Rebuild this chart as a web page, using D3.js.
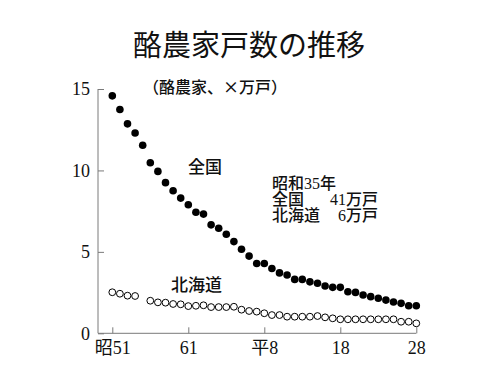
<!DOCTYPE html>
<html>
<head>
<meta charset="utf-8">
<script src="https://cdn.jsdelivr.net/npm/d3@7"></script>
<style>
  body { margin: 0; background: #fff; }
  svg text { fill: #111; }
</style>
</head>
<body>
<div id="chart"></div>
<script>
// data (x万戸)
const years = [1976, 1977, 1978, 1979, 1980, 1981, 1982, 1983, 1984, 1985,
               1986, 1987, 1988, 1989, 1990, 1991, 1992, 1993, 1994, 1995,
               1996, 1997, 1998, 1999, 2000, 2001, 2002, 2003, 2004, 2005,
               2006, 2007, 2008, 2009, 2010, 2011, 2012, 2013, 2014, 2015, 2016]
const zenkoku = [14.58, 13.74, 12.86, 12.3, 11.55, 10.47, 9.94, 9.25, 8.75, 8.3,
                 7.89, 7.43, 7.32, 6.66, 6.45, 6.08, 5.63, 5.16, 4.74, 4.29,
                 4.29, 3.98, 3.71, 3.58, 3.31, 3.31, 3.16, 3.07, 2.90, 2.82,
                 2.82, 2.55, 2.51, 2.35, 2.25, 2.15, 2.04, 1.92, 1.84, 1.69, 1.69]
const hokkaido = [2.52, 2.43, 2.31, 2.29, null, 2.0, 1.90, 1.88, 1.80, 1.78,
                  1.67, 1.69, 1.72, 1.61, 1.61, 1.61, 1.63, 1.45, 1.37, 1.33,
                  1.23, 1.12, 1.12, 1.02, 1.02, 1.02, 1.02, 1.06, 0.98, 0.92,
                  0.86, 0.86, 0.86, 0.86, 0.86, 0.86, 0.86, 0.86, 0.71, 0.71, 0.61]
const xTickYears = [1976, 1986, 1996, 2006, 2016]
const xTickLabels = ['昭51', '61', '平8', '18', '28']
const yTicks = [0, 5, 10, 15]
const noteHead = '昭和35年'
const noteNames = ['全国', '北海道']
const noteValues = ['41万戸', '6万戸']

const W = 500, H = 375
const AXIS_X = 98
const AXIS_COLOR = '#7a7a7a'
const SERIF = '"Liberation Serif", "Noto Sans CJK JP", serif'
const CJK = '"Noto Sans CJK JP", sans-serif'

const svg = d3.select('#chart').append('svg')
    .attr('width', W)
    .attr('height', H)

const x = d3.scaleLinear().domain([1976, 2016]).range([112.3, 416.3])
const y = d3.scaleLinear().domain([0, 15]).range([333.3, 89])

// title
svg.append('text')
    .attr('x', 249).attr('y', 56)
    .attr('text-anchor', 'middle')
    .attr('font-family', CJK)
    .attr('font-size', 29)
    .text('酪農家戸数の推移')

svg.append('text')
    .attr('x', 143).attr('y', 93)
    .attr('font-family', CJK)
    .attr('font-size', 16)
    .attr('font-weight', 500)
    .text('（酪農家、×万戸）')

// y axis
const yAxis = svg.append('g')
    .attr('transform', `translate(${AXIS_X},0)`)
    .call(d3.axisLeft(y).tickValues(yTicks).tickSizeInner(-6).tickSizeOuter(0).tickPadding(8))
yAxis.attr('font-family', SERIF).attr('font-size', 18)
yAxis.select('.domain').remove()
yAxis.selectAll('line').attr('stroke', AXIS_COLOR)
svg.append('line')
    .attr('x1', AXIS_X).attr('x2', AXIS_X)
    .attr('y1', y(0)).attr('y2', y(15))
    .attr('stroke', AXIS_COLOR)

// x axis
const xAxis = svg.append('g')
    .attr('transform', `translate(0,${y(0)})`)
    .call(d3.axisBottom(x).tickValues(xTickYears)
        .tickFormat((d, i) => xTickLabels[i])
        .tickSizeInner(-6).tickSizeOuter(0).tickPadding(8))
xAxis.attr('font-family', SERIF).attr('font-size', 18)
xAxis.select('.domain').remove()
xAxis.selectAll('line').attr('stroke', AXIS_COLOR)
xAxis.selectAll('text').attr('dy', '0.72em')
svg.append('line')
    .attr('x1', AXIS_X).attr('x2', x(2016))
    .attr('y1', y(0)).attr('y2', y(0))
    .attr('stroke', AXIS_COLOR)

// 全国 - filled dots
svg.append('g').selectAll('circle')
    .data(years.map((yr, i) => ({ yr, v: zenkoku[i] })))
    .join('circle')
        .attr('cx', d => x(d.yr))
        .attr('cy', d => y(d.v))
        .attr('r', 3.8)
        .attr('fill', '#000')

// 北海道 - open circles
svg.append('g').selectAll('circle')
    .data(years.map((yr, i) => ({ yr, v: hokkaido[i] })).filter(d => d.v != null))
    .join('circle')
        .attr('cx', d => x(d.yr))
        .attr('cy', d => y(d.v))
        .attr('r', 3.4)
        .attr('fill', '#fff')
        .attr('stroke', '#000')
        .attr('stroke-width', 1)

// series labels
svg.append('text')
    .attr('x', 188).attr('y', 173)
    .attr('font-family', CJK)
    .attr('font-size', 17)
    .attr('font-weight', 500)
    .text('全国')

svg.append('text')
    .attr('x', 171).attr('y', 291)
    .attr('font-family', CJK)
    .attr('font-size', 17)
    .attr('font-weight', 500)
    .text('北海道')

// note
const note = svg.append('g')
    .attr('font-family', SERIF)
    .attr('font-size', 16)
    .attr('font-weight', 500)
note.append('text')
    .attr('x', 272).attr('y', 189)
    .text(noteHead)
note.selectAll('.nm')
    .data(noteNames)
    .join('text')
        .attr('class', 'nm')
        .attr('x', 272)
        .attr('y', (d, i) => 205 + i * 16)
        .text(d => d)
note.selectAll('.val')
    .data(noteValues)
    .join('text')
        .attr('class', 'val')
        .attr('x', 378)
        .attr('y', (d, i) => 205 + i * 16)
        .attr('text-anchor', 'end')
        .text(d => d)
</script>
</body>
</html>
